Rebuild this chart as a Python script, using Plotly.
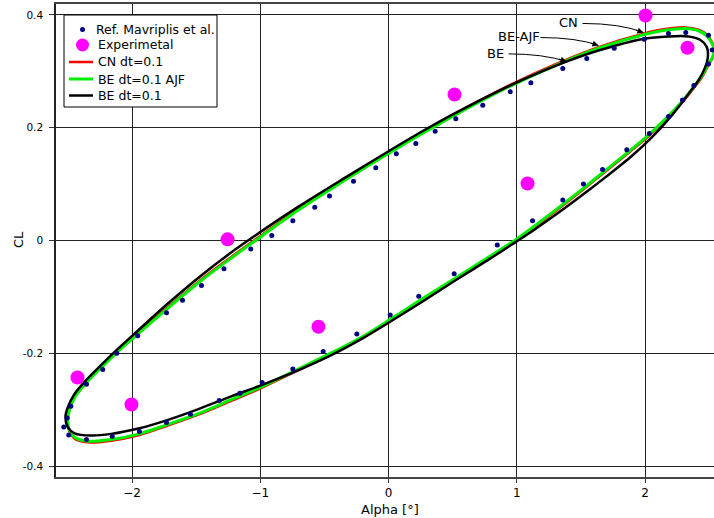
import plotly.graph_objects as go

# Reference solution (Mavriplis et al.)
ref_alpha = [-2.532, -2.505, -2.477, -2.355, -2.228, -2.119, -1.955, -1.731, -1.606, -1.458,
             -1.283, -1.074, -0.910, -0.746, -0.575, -0.460, -0.273, -0.099, 0.061, 0.213,
             0.364, 0.525, 0.735, 0.949, 1.110, 1.359, 1.546, 1.760, 1.994, 2.183,
             2.318, 2.495, 2.524, 2.495,
             2.381, 2.292, 2.183, 2.033, 1.858, 1.669, 1.520, 1.359, 1.123, 0.848,
             0.512, 0.236, 0.013, -0.247, -0.509, -0.746, -0.985, -1.159, -1.320, -1.544,
             -1.731, -1.942, -2.154, -2.355, -2.493]
ref_cl = [-0.331, -0.315, -0.294, -0.255, -0.229, -0.200, -0.169, -0.128, -0.106, -0.080,
          -0.050, -0.015, 0.009, 0.035, 0.059, 0.079, 0.105, 0.129, 0.154, 0.172,
          0.194, 0.216, 0.240, 0.264, 0.280, 0.305, 0.323, 0.341, 0.357, 0.367,
          0.369, 0.364, 0.338, 0.313,
          0.275, 0.249, 0.220, 0.190, 0.161, 0.126, 0.100, 0.072, 0.035, -0.008,
          -0.059, -0.099, -0.132, -0.166, -0.197, -0.228, -0.252, -0.271, -0.284, -0.308,
          -0.323, -0.339, -0.347, -0.353, -0.345]

# Experimental measurements
exp_alpha = [-2.425, -2.004, -1.255, -0.546, 0.515, 1.084, 2.004, 2.331]
exp_cl = [-0.243, -0.291, 0.002, -0.153, 0.259, 0.101, 0.399, 0.342]

# BE dt=0.1 AJF loop
alpha_ajf = [-2.501, -2.487, -2.448, -2.355, -2.228, -2.119, -1.955, -1.731, -1.460, -1.201,
             -1.006, -0.702, -0.312, 0.078, 0.312, 0.546, 0.949, 1.326, 1.637, 1.988,
             2.158, 2.313, 2.417, 2.482, 2.521, 2.542, 2.526, 2.495, 2.443, 2.365,
             2.287, 2.183, 2.027, 1.858, 1.663, 1.521, 1.359, 1.123, 0.996, 0.728,
             0.520, 0.260, 0.000, -0.182, -0.442, -0.702, -1.006, -1.222, -1.482, -1.731,
             -1.942, -2.162, -2.345, -2.448, -2.487, -2.501]
cl_ajf = [-0.319, -0.300, -0.279, -0.252, -0.223, -0.199, -0.166, -0.122, -0.071, -0.027,
          0.005, 0.054, 0.111, 0.165, 0.196, 0.226, 0.274, 0.313, 0.341, 0.365,
          0.373, 0.376, 0.372, 0.363, 0.350, 0.336, 0.325, 0.313, 0.292, 0.268,
          0.246, 0.221, 0.187, 0.155, 0.119, 0.093, 0.064, 0.023, 0.002, -0.037,
          -0.067, -0.104, -0.142, -0.168, -0.199, -0.228, -0.261, -0.282, -0.307, -0.327,
          -0.343, -0.353, -0.356, -0.349, -0.337, -0.319]

# CN dt=0.1 loop
alpha_cn = [-2.503, -2.489, -2.450, -2.355, -2.228, -2.119, -1.955, -1.731, -1.460, -1.201,
            -1.006, -0.702, -0.312, 0.078, 0.312, 0.546, 0.949, 1.326, 1.637, 1.988,
            2.158, 2.313, 2.417, 2.484, 2.523, 2.544, 2.528, 2.497, 2.445, 2.365,
            2.287, 2.183, 2.027, 1.858, 1.663, 1.521, 1.359, 1.123, 0.996, 0.728,
            0.520, 0.260, 0.000, -0.182, -0.442, -0.702, -1.006, -1.222, -1.482, -1.731,
            -1.942, -2.162, -2.345, -2.450, -2.489, -2.503]
cl_cn = [-0.319, -0.299, -0.277, -0.250, -0.221, -0.197, -0.164, -0.120, -0.069, -0.025,
         0.007, 0.056, 0.113, 0.167, 0.198, 0.228, 0.276, 0.315, 0.343, 0.367,
         0.375, 0.378, 0.374, 0.365, 0.351, 0.336, 0.324, 0.312, 0.290, 0.266,
         0.244, 0.219, 0.185, 0.153, 0.117, 0.091, 0.062, 0.021, 0.000, -0.039,
         -0.069, -0.106, -0.144, -0.170, -0.201, -0.230, -0.263, -0.284, -0.309, -0.329,
         -0.345, -0.355, -0.358, -0.351, -0.338, -0.319]

# BE dt=0.1 loop
alpha_be = [-2.519, -2.501, -2.448, -2.355, -2.228, -2.119, -1.955, -1.731, -1.460, -1.201,
            -1.006, -0.702, -0.312, 0.078, 0.312, 0.546, 0.949, 1.326, 1.637, 1.994,
            2.183, 2.339, 2.430, 2.482, 2.490, 2.469, 2.417, 2.339, 2.209, 2.053,
            1.897, 1.690, 1.560, 1.378, 1.123, 0.996, 0.780, 0.520, 0.260, 0.000,
            -0.182, -0.442, -0.702, -1.006, -1.222, -1.482, -1.731, -1.942, -2.162, -2.318,
            -2.448, -2.501, -2.519]
cl_be = [-0.313, -0.296, -0.272, -0.247, -0.218, -0.194, -0.160, -0.114, -0.062, -0.017,
         0.014, 0.060, 0.115, 0.169, 0.200, 0.229, 0.275, 0.312, 0.337, 0.358,
         0.362, 0.362, 0.356, 0.343, 0.325, 0.307, 0.284, 0.260, 0.222, 0.183,
         0.150, 0.112, 0.089, 0.058, 0.017, -0.002, -0.034, -0.071, -0.109, -0.146,
         -0.171, -0.203, -0.230, -0.258, -0.276, -0.299, -0.319, -0.333, -0.343, -0.346,
         -0.342, -0.331, -0.313]

# Curve labels: text position, arrow start, bend control point, arrow end
labels = [
    ("CN", (1.404, 0.387), (1.513, 0.385), (1.809, 0.385), (1.988, 0.369)),
    ("BE-AJF", (1.014, 0.362), (1.185, 0.360), (1.466, 0.360), (1.637, 0.346)),
    ("BE", (0.834, 0.332), (0.936, 0.331), (1.209, 0.331), (1.388, 0.3175)),
]

FONT = "DejaVu Sans"
NAVY = "#000080"
MAGENTA = "#ff00ff"
RED = "#ff0000"
GREEN = "#00ee00"
BLACK = "#000000"

# Plot-area geometry in pixels (used to place the legend box and axis titles)
W, H = 714, 518
M_L, M_R, M_T, M_B = 56, 0, 4, 41
PW, PH = W - M_L - M_R, H - M_T - M_B


def px(x):
    return (x - M_L) / PW


def py(y):
    return (H - M_B - y) / PH


fig = go.Figure()

fig.add_trace(go.Scatter(
    x=alpha_cn, y=cl_cn, mode="lines", name="CN dt=0.1", showlegend=False,
    line=dict(color=RED, width=2.5, shape="spline", smoothing=0.9)))
fig.add_trace(go.Scatter(
    x=alpha_ajf, y=cl_ajf, mode="lines", name="BE dt=0.1 AJF", showlegend=False,
    line=dict(color=GREEN, width=3, shape="spline", smoothing=0.9)))
fig.add_trace(go.Scatter(
    x=alpha_be, y=cl_be, mode="lines", name="BE dt=0.1", showlegend=False,
    line=dict(color=BLACK, width=2.5, shape="spline", smoothing=0.9)))
fig.add_trace(go.Scatter(
    x=ref_alpha, y=ref_cl, mode="markers", name="Ref. Mavriplis et al.", showlegend=False,
    marker=dict(color=NAVY, size=5)))
fig.add_trace(go.Scatter(
    x=exp_alpha, y=exp_cl, mode="markers", name="Experimetal", showlegend=False,
    marker=dict(color=MAGENTA, size=14)))

# Curve labels with bent arrows
for text, tpos, start, ctrl, end in labels:
    fig.add_annotation(x=tpos[0], y=tpos[1], text=text, showarrow=False,
                       font=dict(family=FONT, size=13, color="black"))
    fig.add_shape(type="path", xref="x", yref="y",
                  path=f"M {start[0]},{start[1]} Q {ctrl[0]},{ctrl[1]} {end[0]},{end[1]}",
                  line=dict(color="black", width=1))
    fig.add_annotation(x=end[0], y=end[1], text="", showarrow=True,
                       arrowhead=2, arrowsize=1.2, arrowwidth=1, arrowcolor="black",
                       ax=-9, ay=-3, standoff=0)

# Legend box
fig.add_shape(type="rect", xref="paper", yref="paper", layer="above",
              x0=px(64), x1=px(217), y0=py(107), y1=py(15),
              fillcolor="white", line=dict(color="black", width=1))

legend_rows = [
    ("marker", NAVY, 5, "Ref. Mavriplis et al.", 29.5, 95),
    ("marker", MAGENTA, 13, "Experimetal", 45, 96.5),
    ("line", RED, 2.5, "CN dt=0.1", 62, 96.5),
    ("line", GREEN, 3, "BE dt=0.1 AJF", 79, 96.5),
    ("line", BLACK, 2.5, "BE dt=0.1", 95.5, 96.5),
]
for kind, color, size, text, row_y, text_x in legend_rows:
    if kind == "marker":
        fig.add_shape(type="circle", xref="paper", yref="paper", layer="above",
                      xsizemode="pixel", ysizemode="pixel",
                      xanchor=px(82.5), yanchor=py(row_y),
                      x0=-size / 2, x1=size / 2, y0=-size / 2, y1=size / 2,
                      fillcolor=color, line=dict(width=0))
    else:
        fig.add_shape(type="line", xref="paper", yref="paper", layer="above",
                      x0=px(69), x1=px(93), y0=py(row_y), y1=py(row_y),
                      line=dict(color=color, width=size))
    fig.add_annotation(xref="paper", yref="paper", x=px(text_x), y=py(row_y),
                       xanchor="left", yanchor="middle", text=text, showarrow=False,
                       borderpad=0, font=dict(family=FONT, size=12.5, color="black"))

# Axis titles
fig.add_annotation(xref="paper", yref="paper", x=px(390), y=py(509),
                   xanchor="center", yanchor="middle", text="Alpha [°]", showarrow=False,
                   borderpad=0, font=dict(family=FONT, size=13, color="black"))
fig.add_annotation(xref="paper", yref="paper", x=px(18), y=py(240),
                   xanchor="center", yanchor="middle", text="CL", showarrow=False,
                   textangle=-90, font=dict(family=FONT, size=13, color="black"))

grid = dict(showgrid=True, gridcolor="#222222", gridwidth=1, zeroline=False,
            ticks="outside", tickcolor="#333333", showline=True)

fig.update_xaxes(range=[-2.5926, 2.538], tickvals=[-2, -1, 0, 1, 2], ticklen=4,
                 tickfont=dict(family=FONT, size=12, color="black"),
                 linecolor="#444444", linewidth=2, mirror=True,
                 **grid)
fig.update_yaxes(range=[-0.4195, 0.4195], tickvals=[-0.4, -0.2, 0, 0.2, 0.4],
                 ticktext=["-0.4", "-0.2", "0", "0.2", "0.4"], ticklen=5,
                 tickfont=dict(family=FONT, size=10.5, color="black"),
                 ticklabelstandoff=4,
                 linecolor="#222222", linewidth=1.5,
                 **grid)

fig.update_layout(
    width=W, height=H,
    margin=dict(l=M_L, r=M_R, t=M_T, b=M_B),
    plot_bgcolor="white", paper_bgcolor="white",
    font=dict(family=FONT, size=12, color="black"),
    showlegend=False,
)

fig.write_html("out.html")
